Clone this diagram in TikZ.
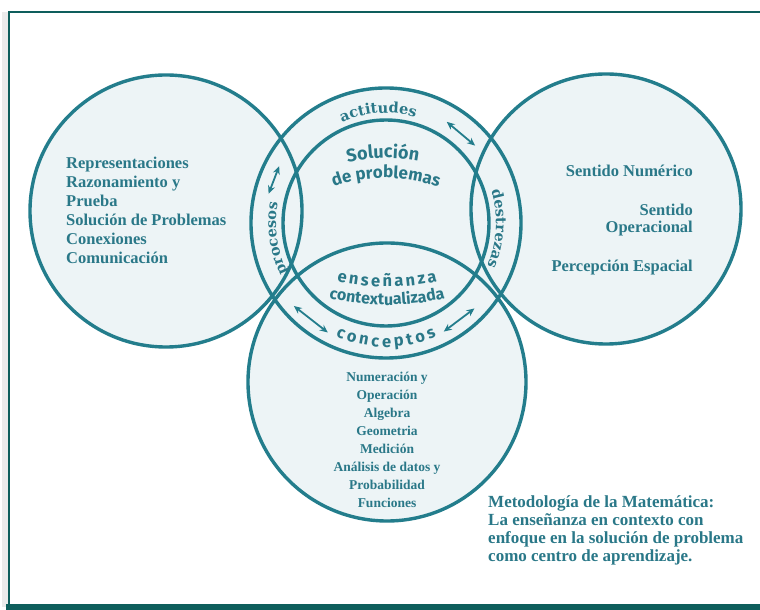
\documentclass[tikz,border=0pt]{standalone}
\usepackage{fontspec}
\setmainfont{Liberation Serif}
\newfontfamily\ringsans{Fira Sans}
\newfontfamily\ringserif{DejaVu Serif}
\usetikzlibrary{calc,decorations.text,arrows.meta}
\definecolor{ring}{HTML}{237D8C}
\definecolor{ringtext}{HTML}{2A7888}
\definecolor{frameline}{HTML}{0E5E5C}
\definecolor{disc}{HTML}{EDF4F6}
\begin{document}
\begin{tikzpicture}[x=1pt,y=1pt,
 ring/.style={draw=ring,line width=3.4pt},
 twoway/.style={draw=ring,line width=1.8pt,{Stealth[length=8pt,width=7pt]}-{Stealth[length=8pt,width=7pt]}},
 block/.style={text=ringtext,font=\bfseries\fontsize{16.5}{19}\selectfont,inner sep=0pt},
 curved/.style={decorate,decoration={text along path,text color=ringtext,text align=center,text={#1}}},
 spread/.style={decorate,decoration={text along path,text color=ringtext,text align={fit to path},text={#1}}}]
\useasboundingbox (0,0) rectangle (760,610);
\fill[white] (0,0) rectangle (760,610);
\fill[black!8] (2,3) rectangle (8,598);
\draw[frameline,line width=2.4pt] (761,598) -- (9,598) -- (9,5);
\fill[frameline] (6,0) rectangle (760,6);
\coordinate (c) at (386,387);
\coordinate (left) at (166,399);
\coordinate (right) at (606,401);
\coordinate (low) at (387,228);
\coordinate (smile) at (387,555);
\coordinate (arch) at (386,276);
\fill[disc] (left) circle[radius=136] (right) circle[radius=135] (c) circle[radius=135] (low) circle[radius=139];
\draw[ring] (left) circle[radius=136];
\draw[ring] (right) circle[radius=135];
\draw[ring] (low) circle[radius=139];
\draw[ring] (c) circle[radius=135] (c) circle[radius=103];
\node[block,anchor=north west,align=left] (process) at (66,453) {Representaciones\\Razonamiento y\\Prueba\\Solución de Problemas\\Conexiones\\Comunicación};
\node[block,anchor=north east,align=right,font=\bfseries\fontsize{16.5}{17.5}\selectfont] (sense) at (693,445) {Sentido Numérico\\[21pt]Sentido\\Operacional\\[21pt]Percepción Espacial};
\node[block,anchor=north,align=center,font=\bfseries\fontsize{13.5}{18}\selectfont] (content) at (387,238) {Numeración y\\Operación\\Algebra\\Geometria\\Medición\\Análisis de datos y\\Probabilidad\\Funciones};
\node[block,anchor=north west,align=left,font=\bfseries\fontsize{17}{18.3}\selectfont] (method) at (488,115) {Metodología de la Matemática:\\La enseñanza en contexto con\\enfoque en la solución de problema\\como centro de aprendizaje.};
\path[curved={|\ringserif\bfseries\fontsize{14.5}{14.5}\selectfont|actitudes}] ($(c)+(134:110)$) arc[start angle=134,end angle=54,radius=110];
\path[curved={|\ringserif\bfseries\fontsize{14.5}{14.5}\selectfont|procesos}] ($(c)+(228:110)$) arc[start angle=228,end angle=148,radius=110];
\path[curved={|\ringserif\bfseries\fontsize{14.5}{14.5}\selectfont|destrezas}] ($(c)+(37:110)$) arc[start angle=37,end angle=-43,radius=110];
\path[spread={|\ringsans\bfseries\fontsize{16.5}{16.5}\selectfont|conceptos}] ($(c)+(246:124)$) arc[start angle=246,end angle=294,radius=124];
\path[curved={|\ringsans\bfseries\fontsize{18}{18}\selectfont|Solución}] ($(arch)+(121:176)$) arc[start angle=121,end angle=61,radius=176];
\path[curved={|\ringsans\bfseries\fontsize{17}{17}\selectfont|de problemas}] ($(arch)+(125:156)$) arc[start angle=125,end angle=55,radius=156];
\path[spread={|\ringsans\bfseries\fontsize{16.5}{16.5}\selectfont|enseñanza}] ($(smile)+(257.5:232)$) arc[start angle=257.5,end angle=282.5,radius=232];
\path[curved={|\ringsans\bfseries\fontsize{16}{16}\selectfont|contextualizada}] ($(smile)+(250:250)$) arc[start angle=250,end angle=290,radius=250];
\foreach \a/\b/\r [count=\k] in {59/41/118,166/152/121,222/242/124,298/316/123}{
  \coordinate (tip\k a) at ($(c)+(\a:\r)$);
  \coordinate (tip\k b) at ($(c)+(\b:\r)$);
  \draw[twoway] (tip\k a) -- (tip\k b);
}
\end{tikzpicture}
\end{document}
